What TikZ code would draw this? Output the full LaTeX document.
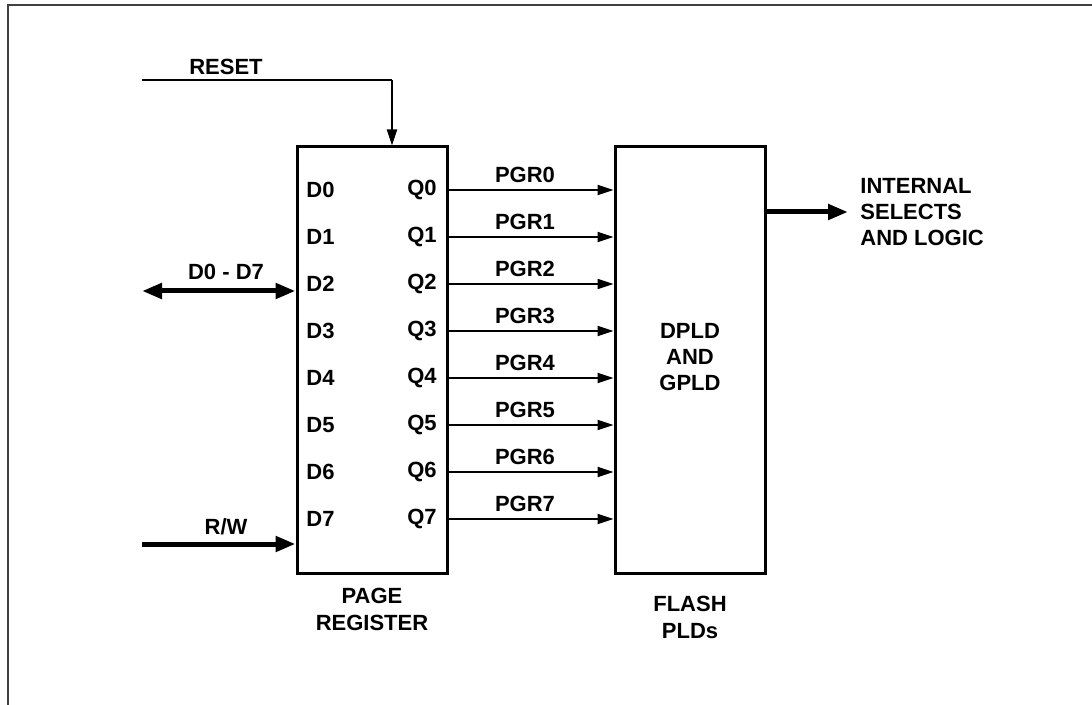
\documentclass[tikz,border=0pt]{standalone}
\usepackage{fontspec}
\setmainfont{Liberation Sans}
\usetikzlibrary{arrows.meta}
\begin{document}
\begin{tikzpicture}[x=0.5pt,y=-0.5pt,
  lbl/.style={font=\bfseries\fontsize{11}{13}\selectfont, inner sep=0pt},
  blk/.style={draw, line width=1.5pt, minimum width=75pt, minimum height=213pt, inner sep=0pt},
  thin/.style={line width=1pt, -{Triangle[length=8pt,width=5pt]}},
  thick/.style={line width=2.5pt, -{Triangle[length=10pt,width=7.5pt]}},
  frame/.style={line width=1pt, draw=black!75}]
\useasboundingbox (0,0) rectangle (1092,705);
\draw[frame] (8,705) -- (8,5) -- (1092,5);
% blocks
\node[blk] (pr) at (372,360) {};
\node[blk] (dp) at (690,360) {};
% block captions
\node[lbl, align=center] (prcap) at (372,609) {PAGE\\[0.5pt]REGISTER};
\node[lbl, align=center] (dpcap) at (690,617) {FLASH\\[0.5pt]PLDs};
\node[lbl, align=center] (dptxt) at (690,357) {DPLD\\AND\\GPLD};
% RESET
\coordinate (rs) at (142,80);
\coordinate (rc) at (392,80);
\draw[line width=1pt] (rs) -- (rc);
\draw[thin] (rc) -- (rc |- pr.north);
\node[lbl] (rstxt) at (226,67) {RESET};
% D0-D7 bus
\coordinate (bs) at (142,291);
\draw[line width=2.5pt, {Triangle[length=10pt,width=7.5pt]}-{Triangle[length=10pt,width=7.5pt]}] (bs) -- (bs -| pr.west);
\node[lbl] (bustxt) at (226,272) {D0 - D7};
% R/W
\coordinate (rw) at (142,544);
\draw[thick] (rw) -- (rw -| pr.west);
\node[lbl] (rwtxt) at (226,527) {R/W};
% rows
\foreach \i in {0,...,7} {
  \pgfmathsetmacro{\yy}{190+47*\i}
  \node[lbl, anchor=west] (d\i) at (306,\yy) {D\i};
  \node[lbl, anchor=east] (q\i) at (437,\yy) {Q\i};
  \coordinate (s\i) at (pr.east |- 0,\yy);
  \coordinate (e\i) at (dp.west |- 0,\yy);
  \draw[thin] (s\i) -- (e\i);
  \node[lbl] (pgr\i) at (525,\yy-15) {PGR\i};
}
% output
\coordinate (oe) at (848,212);
\draw[thick] (dp.east |- oe) -- (oe);
\node[lbl, anchor=west, align=left] (outtxt) at (860,212) {INTERNAL\\SELECTS\\AND LOGIC};
\end{tikzpicture}
\end{document}
